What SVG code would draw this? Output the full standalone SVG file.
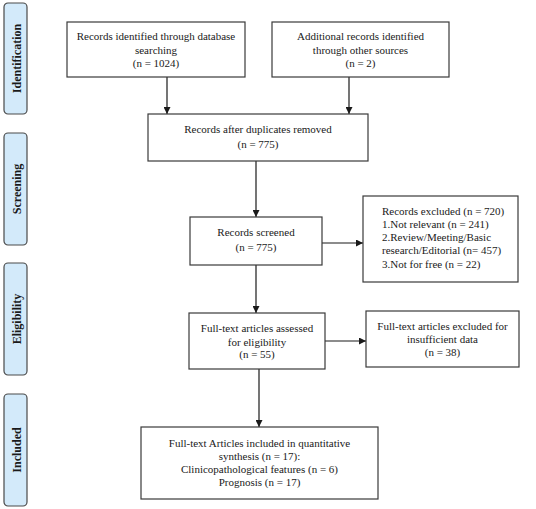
<svg xmlns="http://www.w3.org/2000/svg" width="536" height="509" viewBox="0 0 536 509">
<defs>
<marker id="ah" viewBox="0 0 10 10" refX="10" refY="5" markerWidth="7" markerHeight="7" orient="auto" markerUnits="userSpaceOnUse">
<path d="M0,0 L10,5 L0,10 z" fill="#1a1a1a"/>
</marker>
<style>
.box{fill:#ffffff;stroke:#3a3a3a;stroke-width:1.2}
.side{fill:#d3eafa;stroke:#4a4a4a;stroke-width:1.2}
.t{font-family:"Liberation Serif","Times New Roman",serif;font-size:11px;fill:#1a1a1a}
.c{text-anchor:middle}
.s{font-family:"Liberation Serif","Times New Roman",serif;font-size:12px;font-weight:bold;fill:#1a1a1a;text-anchor:middle}
.ln{stroke:#1a1a1a;stroke-width:1.2;fill:none;marker-end:url(#ah)}
</style>
</defs>
<rect width="536" height="509" fill="#ffffff"/>
<g id="phase-identification"><rect class="side" x="4" y="3" width="23" height="111" rx="4"/><text class="s" transform="translate(20.5,58.5) rotate(-90)">Identification</text></g>
<g id="phase-screening"><rect class="side" x="4" y="133" width="23" height="112" rx="4"/><text class="s" transform="translate(20.5,189) rotate(-90)">Screening</text></g>
<g id="phase-eligibility"><rect class="side" x="4" y="263" width="23" height="112" rx="4"/><text class="s" transform="translate(20.5,319) rotate(-90)">Eligibility</text></g>
<g id="phase-included"><rect class="side" x="4" y="394" width="23" height="112" rx="4"/><text class="s" transform="translate(20.5,450) rotate(-90)">Included</text></g>
<g id="connectors">
<line class="ln" x1="167" y1="77" x2="167" y2="114"/>
<line class="ln" x1="349" y1="77" x2="349" y2="114"/>
<line class="ln" x1="256" y1="161" x2="256" y2="217"/>
<line class="ln" x1="322" y1="243" x2="363" y2="243"/>
<line class="ln" x1="256" y1="265" x2="256" y2="313"/>
<line class="ln" x1="325" y1="341" x2="366" y2="341"/>
<line class="ln" x1="259" y1="369" x2="259" y2="427"/>
</g>
<g id="n-db"><rect class="box" x="67" y="22" width="178" height="55"/>
<text class="t c" x="156" y="40">Records identified through database</text>
<text class="t c" x="156" y="54">searching</text>
<text class="t c" x="156" y="67">(n = 1024)</text></g>
<g id="n-other"><rect class="box" x="272" y="22" width="177" height="55"/>
<text class="t c" x="360.5" y="40">Additional records identified</text>
<text class="t c" x="360.5" y="54">through other sources</text>
<text class="t c" x="360.5" y="67">(n = 2)</text></g>
<g id="n-dup"><rect class="box" x="148" y="114" width="220" height="47"/>
<text class="t c" x="258" y="133">Records after duplicates removed</text>
<text class="t c" x="258" y="148">(n = 775)</text></g>
<g id="n-screened"><rect class="box" x="190" y="217" width="132" height="48"/>
<text class="t c" x="256" y="236">Records screened</text>
<text class="t c" x="256" y="251">(n = 775)</text></g>
<g id="n-excluded"><rect class="box" x="363" y="196" width="155" height="86"/>
<text class="t" x="382" y="215">Records excluded (n = 720)</text>
<text class="t" x="382" y="228">1.Not relevant (n = 241)</text>
<text class="t" x="382" y="241">2.Review/Meeting/Basic</text>
<text class="t" x="382" y="254">research/Editorial (n= 457)</text>
<text class="t" x="382" y="268">3.Not for free (n = 22)</text></g>
<g id="n-assessed"><rect class="box" x="189" y="313" width="136" height="56"/>
<text class="t c" x="257" y="332">Full-text articles assessed</text>
<text class="t c" x="257" y="346">for eligibility</text>
<text class="t c" x="257" y="358">(n = 55)</text></g>
<g id="n-insufficient"><rect class="box" x="366" y="311" width="153" height="56"/>
<text class="t c" x="442.5" y="330">Full-text articles excluded for</text>
<text class="t c" x="442.5" y="343">insufficient data</text>
<text class="t c" x="442.5" y="356">(n = 38)</text></g>
<g id="n-included"><rect class="box" x="141" y="427" width="237" height="72"/>
<text class="t c" x="259.5" y="447">Full-text Articles included in quantitative</text>
<text class="t c" x="259.5" y="460">synthesis (n = 17):</text>
<text class="t c" x="259.5" y="473">Clinicopathological features (n = 6)</text>
<text class="t c" x="259.5" y="486">Prognosis (n = 17)</text></g>
</svg>
